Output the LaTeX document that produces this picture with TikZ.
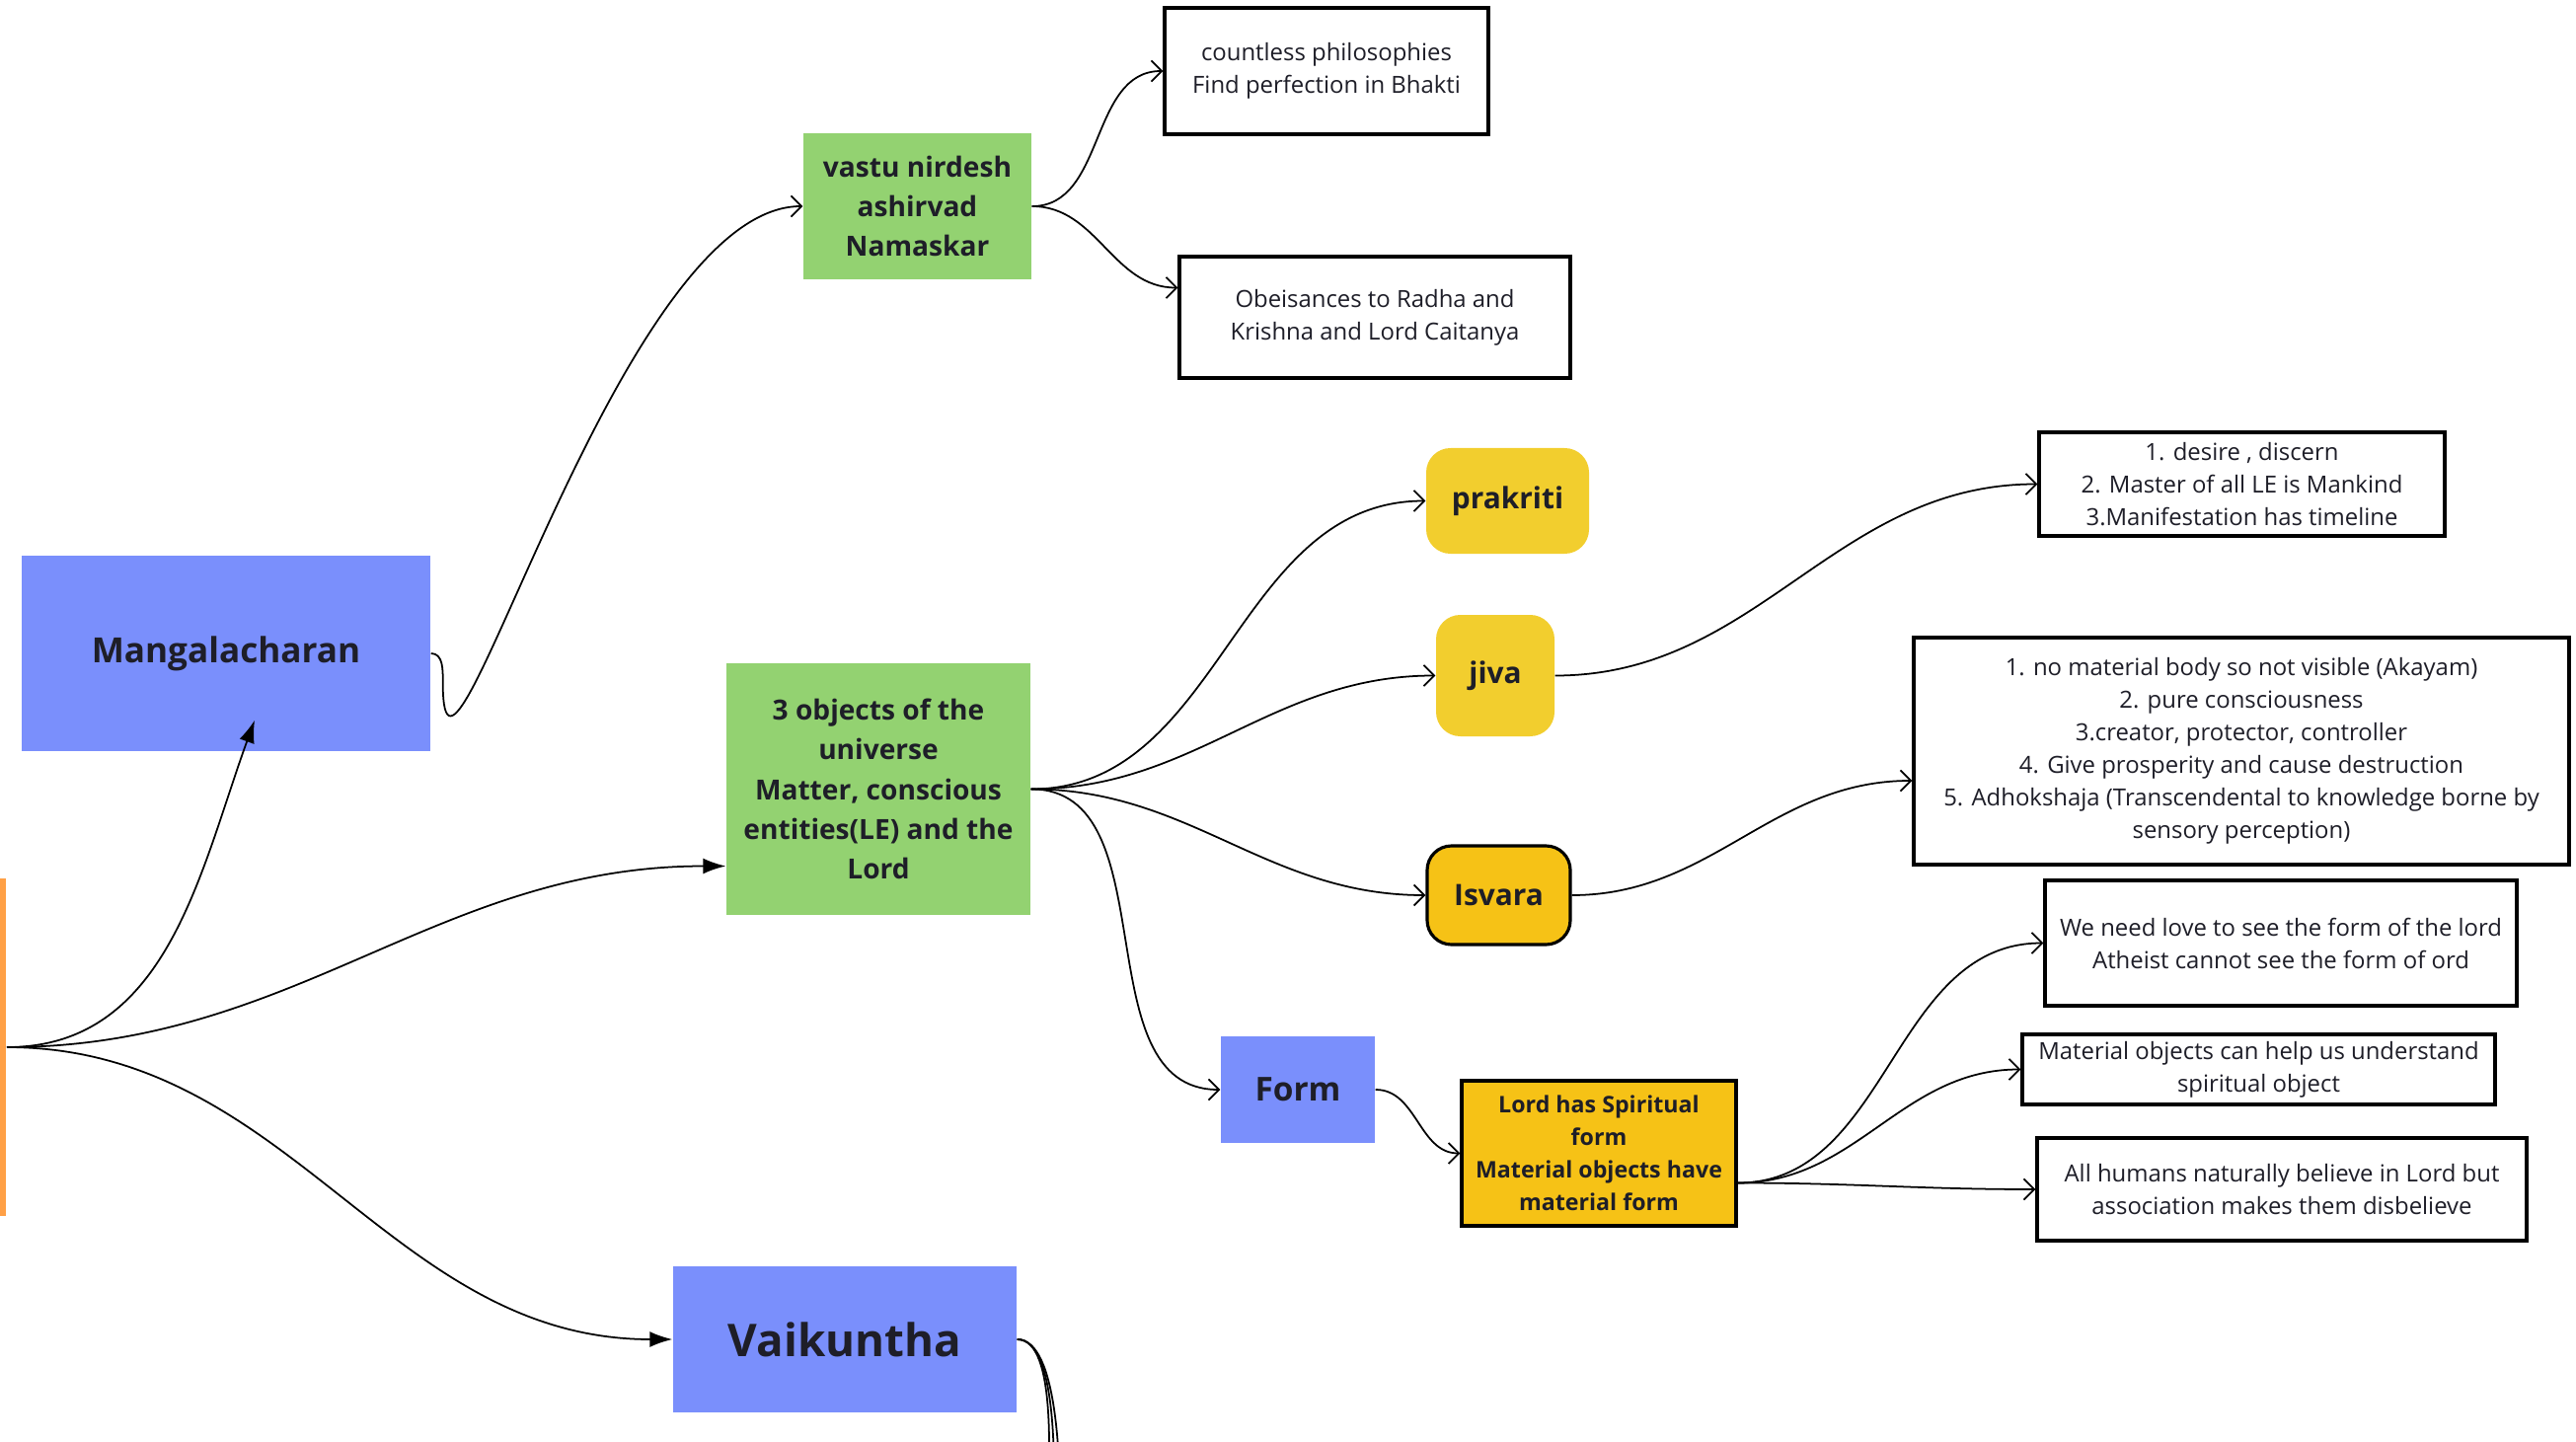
\documentclass[tikz,border=0pt]{standalone}
\usepackage{fontspec}
\setmainfont{Open Sans}
\usetikzlibrary{arrows.meta}

\definecolor{boxblue}{RGB}{122,143,252}
\definecolor{boxgreen}{RGB}{147,210,113}
\definecolor{boxyellow}{RGB}{242,206,46}
\definecolor{boxgold}{RGB}{246,194,22}
\definecolor{rootorange}{RGB}{255,160,70}
\definecolor{inkdark}{RGB}{30,30,40}

\tikzset{
    bluebox/.style={fill=boxblue, text=inkdark, align=center, inner sep=2pt},
    greenbox/.style={fill=boxgreen, text=inkdark, align=center, inner sep=2pt,
        font=\fontsize{8}{11.5}\selectfont\bfseries},
    yellowbox/.style={fill=boxyellow, text=inkdark, rounded corners=7pt, inner sep=2pt,
        font=\fontsize{8.5}{11}\selectfont\bfseries},
    goldbox/.style={fill=boxgold, draw=black, line width=0.9pt, text=inkdark, align=center, inner sep=2pt},
    notebox/.style={draw=black, line width=1pt, fill=white, text=inkdark, align=center, inner sep=2pt,
        font=\fontsize{6.8}{9.4}\selectfont},
    link/.style={line width=0.5pt, -{Straight Barb[length=3pt,width=6pt]}},
    mainlink/.style={line width=0.5pt, -{Latex[length=6.5pt,width=4.5pt]}},
    plainlink/.style={line width=0.5pt}
}

\begin{document}
\begin{tikzpicture}
        \useasboundingbox (0,0) rectangle (26.1,-14.61);
        \clip (0,0) rectangle (26.1,-14.61);

        % 1. Place the nodes
        % Root (mostly off the page)
        \node[fill=rootorange, minimum width=2cm, minimum height=3.42cm, anchor=east] (root) at (0.07,-10.61) {};

        % First level
        \node[bluebox, minimum width=4.14cm, minimum height=1.98cm, font=\fontsize{10}{12}\selectfont\bfseries] (mang) at (2.29,-6.62) {Mangalacharan};
        \node[greenbox, minimum width=3.08cm, minimum height=2.55cm] (objects) at (8.90,-7.995) {3 objects of the\\universe\\Matter, conscious\\entities(LE) and the\\Lord};
        \node[bluebox, minimum width=3.48cm, minimum height=1.48cm, font=\fontsize{13}{15}\selectfont\bfseries] (vaik) at (8.56,-13.57) {Vaikuntha};

        % Mangalacharan branch
        \node[greenbox, minimum width=2.31cm, minimum height=1.48cm] (vastu) at (9.295,-2.09) {vastu nirdesh\\ashirvad\\Namaskar};
        \node[notebox, minimum width=3.28cm, minimum height=1.28cm] (countless) at (13.44,-0.72) {countless philosophies\\Find perfection in Bhakti};
        \node[notebox, minimum width=3.96cm, minimum height=1.23cm] (obeis) at (13.93,-3.215) {Obeisances to Radha and\\Krishna and Lord Caitanya};

        % 3 objects branch
        \node[yellowbox, minimum width=1.65cm, minimum height=1.07cm] (prakriti) at (15.275,-5.075) {prakriti};
        \node[yellowbox, minimum width=1.20cm, minimum height=1.23cm] (jiva) at (15.15,-6.845) {jiva};
        \node[goldbox, rounded corners=7pt, minimum width=1.45cm, minimum height=1.00cm, font=\fontsize{8.5}{11}\selectfont\bfseries] (isvara) at (15.185,-9.07) {Isvara};
        \node[bluebox, minimum width=1.56cm, minimum height=1.08cm, font=\fontsize{9.5}{11}\selectfont\bfseries] (form) at (13.15,-11.04) {Form};
        \node[goldbox, minimum width=2.78cm, minimum height=1.47cm, font=\fontsize{6.6}{9.4}\selectfont\bfseries] (lordform) at (16.20,-11.685) {Lord has Spiritual\\form\\Material objects have\\material form};

        % Notes on the right
        \node[notebox, minimum width=4.11cm, minimum height=1.05cm] (desire) at (22.715,-4.905) {1. desire , discern\\2. Master of all LE is Mankind\\3.Manifestation has timeline};
        \node[notebox, minimum width=6.64cm, minimum height=2.30cm] (akayam) at (22.71,-7.61) {1. no material body so not visible (Akayam)\\2. pure consciousness\\3.creator, protector, controller\\4. Give prosperity and cause destruction\\5. Adhokshaja (Transcendental to knowledge borne by\\sensory perception)};
        \node[notebox, minimum width=4.78cm, minimum height=1.27cm] (love) at (23.11,-9.555) {We need love to see the form of the lord\\Atheist cannot see the form of ord};
        \node[notebox, minimum width=4.79cm, minimum height=0.63cm] (matobj) at (22.885,-10.835) {Material objects can help us understand\\spiritual object};
        \node[notebox, minimum width=4.96cm, minimum height=1.04cm] (humans) at (23.12,-12.05) {All humans naturally believe in Lord but\\association makes them disbelieve};

        % Loose ends below the page
        \coordinate (vt1) at (10.62,-15.3);
        \coordinate (vt2) at (10.68,-15.3);
        \coordinate (vt3) at (10.74,-15.3);

        % 2. Draw the connectors
        \draw[mainlink] (root.east) to[out=0, in=-110] ([xshift=2.9mm, yshift=3.2mm]mang.south);
        \draw[mainlink] (root.east) to[out=0, in=180] ([yshift=-7.8mm]objects.west);
        \draw[mainlink] (root.east) to[out=0, in=180] (vaik.west);

        \draw[link] (mang.east) to[out=0, in=90] ++(0.12,-0.3) to[out=-90, in=180, looseness=0.8] (vastu.west);
        \draw[link] (vastu.east) to[out=0, in=180] (countless.west);
        \draw[link] (vastu.east) to[out=0, in=180] ([yshift=3mm]obeis.west);

        \foreach \n in {prakriti, jiva, isvara, form}
            \draw[link] (objects.east) to[out=0, in=180] (\n.west);

        \draw[link] (jiva.east) to[out=0, in=180] (desire.west);
        \draw[link] (isvara.east) to[out=0, in=180] ([yshift=-3mm]akayam.west);
        \draw[link] (form.east) to[out=0, in=180] (lordform.west);

        \foreach \n in {love, matobj, humans}
            \draw[link] ([yshift=-3mm]lordform.east) to[out=0, in=180] (\n.west);

        \foreach \t in {vt1, vt2, vt3}
            \draw[plainlink] (vaik.east) to[out=0, in=90, looseness=0.6] (\t);

\end{tikzpicture}
\end{document}
